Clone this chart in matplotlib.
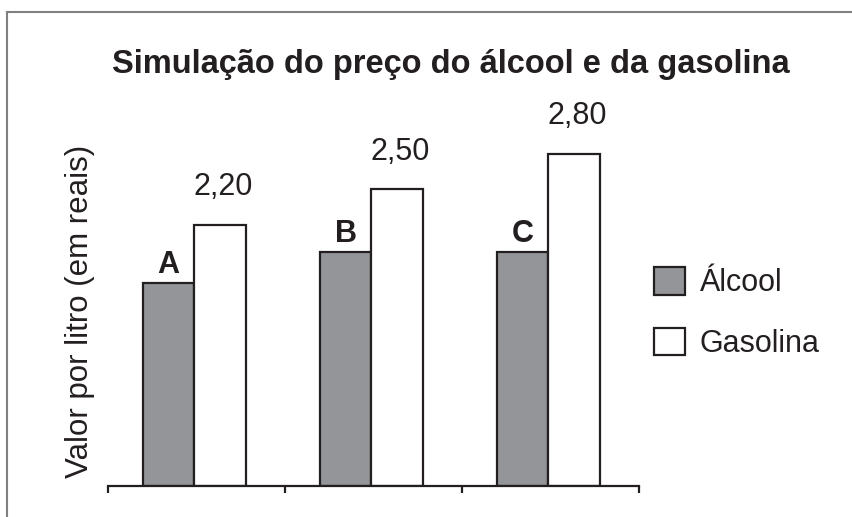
import matplotlib
matplotlib.use("Agg")
import matplotlib.pyplot as plt
import numpy as np
from matplotlib.lines import Line2D
from matplotlib.patches import Patch

plt.rcParams["font.family"] = ["Liberation Sans", "DejaVu Sans"]

INK, GREY, FRAME = "#231f20", "#939598", "#808080"

# data
categories = ["A", "B", "C"]
alcool = [1.71, 1.97, 1.97]
gasolina = [2.20, 2.50, 2.80]
gas_labels = ["2,20", "2,50", "2,80"]

fig = plt.figure(figsize=(8.53, 5.17), dpi=100)
ax = fig.add_axes([0.1266, 0.06, 0.6225, 0.6886])

x = np.arange(len(categories))
w = 0.29
b1 = ax.bar(x - w / 2 - 0.012, alcool, w, color=GREY, edgecolor=INK, linewidth=1.6, label="Álcool")
b2 = ax.bar(x + w / 2 - 0.012, gasolina, w, color="white", edgecolor=INK, linewidth=1.6, label="Gasolina")

for rect, lab in zip(b1, categories):
    ax.annotate(lab, (rect.get_x() + rect.get_width() / 2, rect.get_height()),
                xytext=(0, 13), textcoords="offset points", ha="center", va="center",
                fontsize=22, fontweight="bold", color=INK)
for rect, lab in zip(b2, gas_labels):
    ax.annotate(lab, (rect.get_x() + rect.get_width() / 2, rect.get_height()),
                xytext=(2, 27), textcoords="offset points", ha="center", va="center",
                fontsize=22, color=INK)

ax.set_xlim(-0.5, 2.5)
ax.set_ylim(0, 3.0)
ax.set_xticks([-0.5, 0.5, 1.5, 2.5])
ax.set_xticklabels([])
ax.set_yticks([])
ax.tick_params(axis="x", direction="out", length=5, width=1.6, color=INK)
for s in ("left", "top", "right"):
    ax.spines[s].set_visible(False)
ax.spines["bottom"].set_linewidth(1.6)
ax.spines["bottom"].set_color(INK)

fig.text(0.529, 0.876, "Simulação do preço do álcool e da gasolina",
         ha="center", va="center", fontsize=23.5, fontweight="bold", color=INK)
fig.text(0.094, 0.398, "Valor por litro (em reais)", rotation=90,
         ha="center", va="center", fontsize=22.5, color=INK)

handles = [Patch(facecolor=GREY, edgecolor=INK, linewidth=1.6),
           Patch(facecolor="white", edgecolor=INK, linewidth=1.6)]
fig.legend(handles, ["Álcool", "Gasolina"], loc="center left",
           bbox_to_anchor=(0.7667, 0.3946), frameon=False, fontsize=22,
           handlelength=1.0, handleheight=1.0, handletextpad=0.5,
           labelspacing=0.95, borderpad=0, borderaxespad=0, labelcolor=INK)

# grey frame lines (top and left)
fig.add_artist(Line2D([0.0082, 1.0], [0.9768, 0.9768], transform=fig.transFigure, color=FRAME, lw=1.5))
fig.add_artist(Line2D([0.0082, 0.0082], [0.0, 0.9768], transform=fig.transFigure, color=FRAME, lw=1.5))

fig.savefig("out.png", dpi=100, facecolor="white")
